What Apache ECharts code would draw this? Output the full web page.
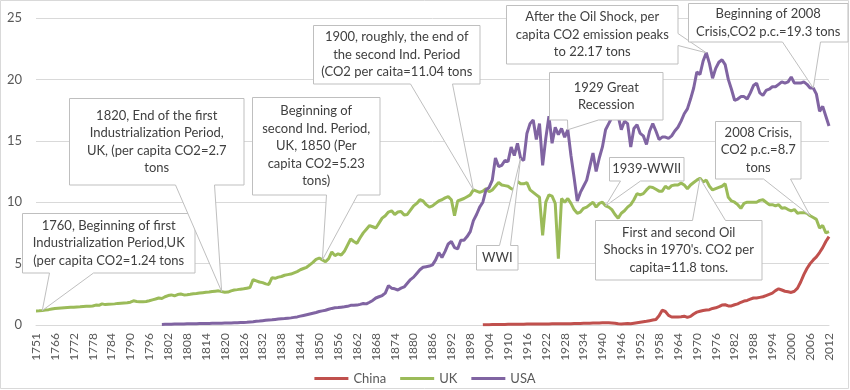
<!DOCTYPE html>
<html>
<head>
<meta charset="utf-8">
<script src="https://cdn.jsdelivr.net/npm/echarts@6/dist/echarts.min.js"></script>
<style>html,body{margin:0;padding:0;background:#fff}#main{width:850px;height:390px}</style>
</head>
<body>
<div id="main"></div>
<script>
// ---- categories (1751, then 1761..2012 as in the source data) ----
const years = ['1751'];
for (let y = 1761; y <= 2012; y++) years.push(String(y));

// ---- UK per-capita CO2 (tons), 1751 then 1761..2012 ----
const ukValues = [
1.15,
1.16,1.18,1.22,1.25,1.30,1.34,1.36,1.38,1.40,1.42,
1.44,1.45,1.47,1.48,1.50,1.52,1.53,1.55,1.62,1.60,
1.72,1.66,1.68,1.70,1.72,1.76,1.78,1.80,1.82,1.86,
1.97,1.92,1.90,1.90,1.92,1.98,2.05,2.12,2.20,2.16,
2.30,2.40,2.45,2.38,2.48,2.52,2.45,2.47,2.50,2.54,
2.56,2.60,2.63,2.66,2.68,2.72,2.75,2.78,2.72,2.66,
2.68,2.78,2.85,2.88,2.92,2.95,3.00,3.05,3.70,3.60,
3.50,3.45,3.35,3.30,3.85,3.80,3.90,3.95,4.05,4.10,
4.15,4.25,4.35,4.50,4.60,4.70,4.90,5.10,5.35,5.45,
5.30,5.15,5.40,5.95,5.65,5.80,5.70,6.00,6.50,7.00,
6.80,6.65,7.10,7.50,7.80,8.10,8.00,7.90,8.30,8.70,
8.90,9.20,9.30,9.00,9.20,9.25,8.95,9.00,9.35,9.70,
9.90,10.20,10.10,9.80,9.60,9.70,9.90,10.10,10.20,10.35,
10.45,10.20,8.90,10.10,10.20,10.30,10.45,10.60,11.00,10.90,
10.80,10.90,11.10,10.85,11.00,11.30,11.60,11.40,11.35,11.30,
11.10,11.00,11.70,11.50,11.50,11.60,11.00,10.80,10.60,10.40,
7.30,10.00,10.60,10.50,9.90,5.40,10.30,10.00,10.30,9.90,
9.40,9.10,9.20,9.50,9.60,9.80,10.00,9.60,9.90,10.00,
9.70,9.60,9.40,9.00,8.70,9.10,9.30,9.60,9.80,10.20,
10.70,10.60,10.70,11.00,11.25,11.20,11.05,10.90,10.90,11.30,
11.10,11.35,11.40,11.40,11.55,11.40,11.10,11.40,11.60,11.80,
11.95,11.65,11.80,11.30,11.00,11.10,11.20,11.30,11.50,10.40,
10.10,10.00,9.80,9.50,9.90,10.00,10.00,10.00,10.00,10.15,
10.20,10.00,9.80,9.80,9.70,9.80,9.50,9.55,9.40,9.30,
9.40,9.10,9.15,9.15,9.10,8.90,8.75,8.60,7.90,8.10,7.50,7.60
];

// ---- USA per-capita CO2 (tons), from 1800 ----
const usaStart = 1800;
const usaValues = [
0.05,
0.06,0.07,0.07,0.08,0.08,0.09,0.09,0.10,0.10,0.11,
0.11,0.12,0.12,0.13,0.13,0.14,0.14,0.15,0.15,0.16,
0.16,0.17,0.18,0.19,0.20,0.21,0.22,0.24,0.26,0.30,
0.32,0.35,0.38,0.40,0.42,0.45,0.48,0.50,0.52,0.55,
0.58,0.62,0.66,0.72,0.78,0.84,0.90,0.96,1.02,1.10,
1.15,1.20,1.28,1.35,1.40,1.42,1.45,1.48,1.52,1.60,
1.60,1.62,1.68,1.75,1.72,1.85,2.00,2.20,2.30,2.40,
2.60,3.20,3.00,2.95,2.85,3.00,3.10,3.40,3.70,3.90,
4.20,4.50,4.70,4.75,4.80,4.90,5.30,5.90,5.50,6.00,
6.60,6.80,6.30,6.20,6.90,6.90,7.20,7.60,8.50,9.00,
9.60,10.00,11.00,11.20,11.80,13.60,12.90,13.00,13.40,13.30,
14.50,13.80,14.80,13.60,13.40,15.60,16.40,16.70,15.10,16.40,
13.00,15.20,17.00,14.80,16.10,15.50,16.00,15.30,15.90,13.80,
12.00,10.10,10.80,11.30,11.80,12.90,14.00,12.50,13.60,14.50,
15.90,16.40,16.90,17.20,17.00,15.90,16.60,16.40,14.50,16.00,
16.30,15.60,15.40,14.70,15.80,16.40,15.80,15.10,15.30,15.30,
15.20,15.40,15.80,16.10,16.60,17.20,17.60,18.40,19.30,20.60,
20.40,21.50,22.17,21.30,20.10,20.90,21.40,21.60,21.20,20.00,
19.20,18.30,18.40,18.60,18.60,18.40,18.90,19.50,19.70,18.90,
18.70,19.10,19.20,19.40,19.40,19.60,19.80,19.70,19.80,20.20,
19.70,19.70,19.70,19.80,19.60,19.30,19.30,18.80,17.40,17.80,17.00,16.20
];

// ---- China per-capita CO2 (tons), from 1902 ----
const chinaStart = 1902;
const chinaValues = [
0.02,0.03,0.03,0.04,0.04,0.05,0.05,0.05,0.06,
0.06,0.06,0.07,0.07,0.07,0.08,0.08,0.08,0.08,0.09,
0.09,0.09,0.09,0.10,0.10,0.10,0.10,0.11,0.11,0.11,
0.12,0.12,0.13,0.14,0.14,0.15,0.16,0.16,0.17,0.18,
0.19,0.18,0.17,0.15,0.10,0.08,0.10,0.12,0.10,0.14,
0.18,0.22,0.26,0.30,0.35,0.40,0.45,0.75,1.20,1.10,
0.78,0.65,0.65,0.66,0.68,0.72,0.62,0.70,0.90,1.05,
1.12,1.18,1.22,1.25,1.35,1.40,1.50,1.62,1.65,1.55,
1.55,1.65,1.72,1.85,1.95,2.00,2.10,2.20,2.20,2.25,
2.30,2.40,2.50,2.60,2.80,2.95,2.85,2.75,2.70,2.65,
2.75,3.00,3.50,4.10,4.60,5.00,5.30,5.55,5.90,6.30,6.80,7.20
];

const seriesNames = ['China', 'UK', 'USA'];
const yTicks = [0, 5, 10, 15, 20, 25];

// ---- callout annotations (text + layout) ----
const notes = [
  {text: '1760, Beginning of first\nIndustrialization Period,UK\n(per capita CO2=1.24 tons', box: [22, 213, 172, 59], side: 'bottom', base: [49, 93], tipYear: '1762', tipSeries: 'UK'},
  {text: '1820, End of the first\nIndustrialization Period,\nUK, (per capita CO2=2.7\ntons', box: [69, 98, 174, 86], side: 'bottom', base: [175, 214], tipYear: '1819', tipSeries: 'UK'},
  {text: 'Beginning of\nsecond Ind. Period,\nUK, 1850 (Per\ncapita CO2=5.23\ntons)', box: [252, 97, 127, 97], side: 'bottom', base: [326, 357], tipYear: '1851', tipSeries: 'UK'},
  {text: '1900, roughly, the end of\nthe second Ind. Period\n(CO2 per caita=11.04 tons', box: [313, 25, 166, 58], side: 'bottom', base: [410, 452], tipYear: '1899', tipSeries: 'UK'},
  {text: 'After the Oil Shock, per\ncapita CO2 emission peaks\nto 22.17 tons', box: [506, 5, 171, 58], side: 'right', base: [33, 45], tipYear: '1973', tipSeries: 'USA'},
  {text: 'Beginning of 2008\nCrisis,CO2 p.c.=19.3 tons', box: [688, 3, 159, 38], side: 'bottom', base: [782, 820], tipYear: '2007', tipSeries: 'USA'},
  {text: '1929 Great\nRecession', box: [549, 72, 113, 47], side: 'bottom', base: [567, 598], tipYear: '1929', tipSeries: 'USA'},
  {text: 'WWI', box: [476, 245, 41, 24], side: 'top', base: [499, 510], tipYear: '1914', tipSeries: 'USA'},
  {text: '1939-WWII', box: [609, 157, 74, 23], side: 'bottom', base: [620, 640], tipYear: '1941', tipSeries: 'UK'},
  {text: "First and second Oil\nShocks in 1970's. CO2 per\ncapita=11.8 tons.", box: [595, 220, 166, 59], side: 'top', base: [692, 725], tipYear: '1971', tipSeries: 'UK'},
  {text: '2008 Crisis,\nCO2 p.c.=8.7\ntons', box: [715, 121, 85, 57], side: 'bottom', base: [763, 790], tipYear: '2006', tipSeries: 'UK'}
];

// ---- build series data ----
const ukData = ukValues.map((v, i) => [years[i], v]);
const usaData = usaValues.map((v, i) => [String(usaStart + i), v]);
const chinaData = chinaValues.map((v, i) => [String(chinaStart + i), v]);
const dataBySeries = {UK: ukData, USA: usaData, China: chinaData};

function valueAt(series, year) {
  const row = dataBySeries[series].find(r => r[0] === year);
  return row ? row[1] : 0;
}

const FONT = 'Lato';
const chart = echarts.init(document.getElementById('main'), null, {renderer: 'canvas'});
chart.setOption({
  animation: false,
  backgroundColor: '#ffffff',
  textStyle: {fontFamily: FONT},
  grid: {left: 36, right: 21, top: 18, bottom: 65},
  legend: {
    data: seriesNames, bottom: 0, left: 'center', icon: 'rect',
    itemWidth: 34, itemHeight: 3, itemGap: 14,
    textStyle: {color: '#595959', fontSize: 13, fontFamily: FONT}
  },
  xAxis: {
    type: 'category', data: years, boundaryGap: false,
    axisLine: {lineStyle: {color: '#d9d9d9'}},
    axisTick: {show: false},
    axisLabel: {rotate: 90, interval: 5, color: '#595959', fontSize: 12, margin: 8, fontFamily: FONT},
    splitLine: {show: false}
  },
  yAxis: {
    type: 'value', min: yTicks[0], max: yTicks[yTicks.length - 1], interval: 5,
    axisLine: {show: false}, axisTick: {show: false},
    axisLabel: {color: '#595959', fontSize: 13, margin: 14, fontFamily: FONT},
    splitLine: {lineStyle: {color: '#d9d9d9', width: 1}}
  },
  series: [
    {name: 'China', type: 'line', data: chinaData, showSymbol: false, lineStyle: {width: 3, color: '#C0504D'}, itemStyle: {color: '#C0504D'}},
    {name: 'UK', type: 'line', data: ukData, showSymbol: false, lineStyle: {width: 3, color: '#9BBB59'}, itemStyle: {color: '#9BBB59'}},
    {name: 'USA', type: 'line', data: usaData, showSymbol: false, lineStyle: {width: 3, color: '#8064A2'}, itemStyle: {color: '#8064A2'}}
  ]
});

// ---- callouts: tip positions come from the data via the chart's scales ----
const graphics = [{
  type: 'rect', z: 0, silent: true,
  shape: {x: 0.5, y: 0.5, width: 848, height: 388},
  style: {fill: null, stroke: '#d9d9d9', lineWidth: 1}
}];
notes.forEach(n => {
  const idx = years.indexOf(n.tipYear);
  const tip = chart.convertToPixel({xAxisIndex: 0, yAxisIndex: 0}, [idx, valueAt(n.tipSeries, n.tipYear)]);
  const [x, y, w, h] = n.box.map(v => Math.round(v) + 0.5);
  const a = n.base[0] + 0.5, b = n.base[1] + 0.5;
  let pts;
  if (n.side === 'bottom') {
    pts = [[x, y], [x + w, y], [x + w, y + h], [b, y + h], tip, [a, y + h], [x, y + h]];
  } else if (n.side === 'top') {
    pts = [[x, y], [a, y], tip, [b, y], [x + w, y], [x + w, y + h], [x, y + h]];
  } else {
    pts = [[x, y], [x + w, y], [x + w, a], tip, [x + w, b], [x + w, y + h], [x, y + h]];
  }
  graphics.push({
    type: 'polygon', z: 100, silent: true,
    shape: {points: pts},
    style: {fill: '#ffffff', stroke: '#bfbfbf', lineWidth: 1}
  });
  graphics.push({
    type: 'text', z: 101, silent: true,
    x: x + w / 2, y: y + h / 2,
    style: {
      text: n.text, fill: '#404040', fontSize: 13, fontFamily: FONT, lineHeight: 17.5,
      align: 'center', verticalAlign: 'middle', textAlign: 'center', textVerticalAlign: 'middle'
    }
  });
});
chart.setOption({graphic: graphics});
</script>
</body>
</html>
